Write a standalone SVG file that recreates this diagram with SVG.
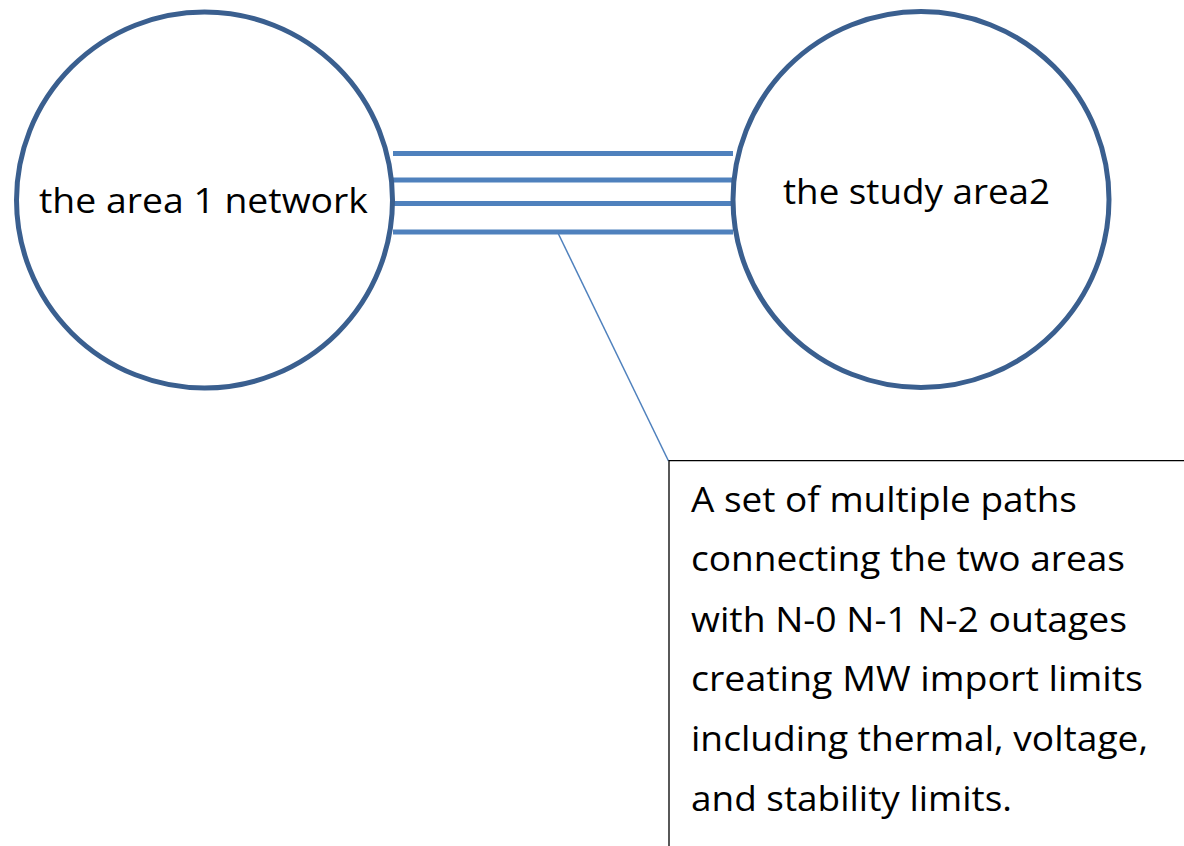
<svg xmlns="http://www.w3.org/2000/svg" width="1184" height="846" viewBox="0 0 1184 846">
  <style>
    .area { fill: #ffffff; stroke: #3a5f8f; stroke-width: 5; }
    .path { stroke: #4f81bd; stroke-width: 5; fill: none; }
    .leader { stroke: #4f81bd; stroke-width: 1.5; fill: none; }
    .box { stroke: #000000; stroke-width: 1.3; fill: none; }
    .lbl { font-family: "Open Sans", "Noto Sans", "Liberation Sans", sans-serif; font-size: 35px; fill: #000000; }
  </style>
  <rect width="1184" height="846" fill="#ffffff"/>

  <!-- tie lines between the two areas -->
  <g id="connectors">
    <line class="path" x1="393" y1="153.5" x2="733" y2="153.5"/>
    <line class="path" x1="393" y1="180" x2="733" y2="180"/>
    <line class="path" x1="393" y1="203.5" x2="733" y2="203.5"/>
    <line class="path" x1="393" y1="232" x2="733" y2="232"/>
    <line class="leader" x1="558" y1="233" x2="668.5" y2="461"/>
  </g>

  <g id="area1">
    <circle class="area" cx="204.5" cy="200" r="188"/>
    <text class="lbl" x="39" y="213" textLength="329" lengthAdjust="spacingAndGlyphs">the area 1 network</text>
  </g>

  <g id="area2">
    <circle class="area" cx="921" cy="199.5" r="188"/>
    <text class="lbl" x="783" y="204" textLength="267" lengthAdjust="spacingAndGlyphs">the study area2</text>
  </g>

  <g id="callout">
    <path class="box" d="M669 846 V460.7 H1184"/>
    <text class="lbl" x="691" y="511.5" textLength="386" lengthAdjust="spacingAndGlyphs">A set of multiple paths</text>
    <text class="lbl" x="691" y="571" textLength="434" lengthAdjust="spacingAndGlyphs">connecting the two areas</text>
    <text class="lbl" x="691" y="631.5" textLength="436" lengthAdjust="spacingAndGlyphs">with N-0 N-1 N-2 outages</text>
    <text class="lbl" x="691" y="690.5" textLength="452" lengthAdjust="spacingAndGlyphs">creating MW import limits</text>
    <text class="lbl" x="691" y="751" textLength="457" lengthAdjust="spacingAndGlyphs">including thermal, voltage,</text>
    <text class="lbl" x="691" y="810.5" textLength="321" lengthAdjust="spacingAndGlyphs">and stability limits.</text>
  </g>
</svg>
